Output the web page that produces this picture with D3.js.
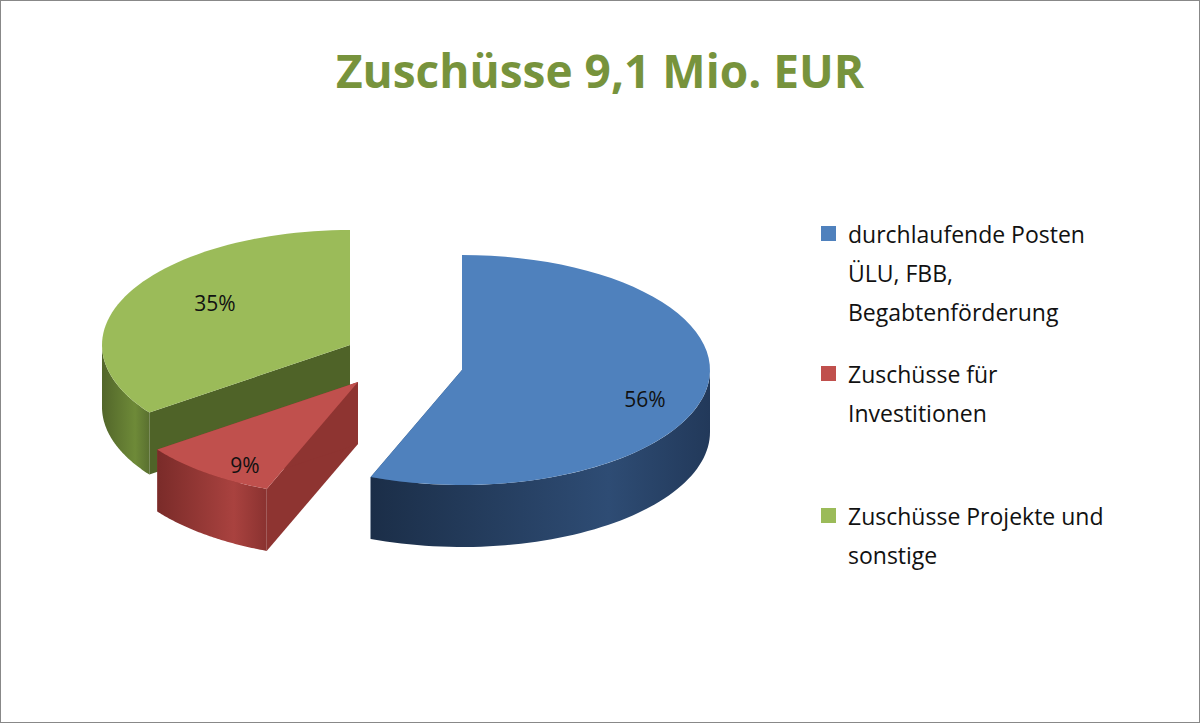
<!DOCTYPE html>
<html><head><meta charset="utf-8">
<script src="https://cdn.jsdelivr.net/npm/d3@7"></script>
<style>body{margin:0;background:#fff}</style></head>
<body><svg id="c" width="1200" height="723"></svg>
<script>
const categories = ["durchlaufende Posten ÜLU, FBB, Begabtenförderung","Zuschüsse für Investitionen","Zuschüsse Projekte und sonstige"];
const values = [56, 9, 35];
const labels = ["56%","9%","35%"];
const legendLines = [["durchlaufende Posten","ÜLU, FBB,","Begabtenförderung"],["Zuschüsse für","Investitionen"],["Zuschüsse Projekte und","sonstige"]];
const title = "Zuschüsse 9,1 Mio. EUR";

const svg = d3.select("#c");
const font = "Open Sans, Liberation Sans, sans-serif";
svg.append("rect").attr("x",0.5).attr("y",0.5).attr("width",1199).attr("height",722).attr("fill","#fff").attr("stroke","#888");
svg.append("text").attr("x",600).attr("y",88).attr("text-anchor","middle").attr("font-family",font)
  .attr("font-weight","bold").attr("font-size",46).attr("fill","#77933C").text(title);

const tops = ["#4F81BD","#C0504D","#9BBB59"];
const faceCol = ["#2B4A72","#8E3431","#4F6328"];
const wallStops = [["#1B2E48","#2E4C74","#22395A"],["#7A2B29","#A9423F","#8A3230"],["#52662A","#6E8A38","#5A7030"]];
const apex = [[462,370],[358,382],[350,345]];
const rx = 248, ry = 115, depth = 62;
const pie = d3.pie().sort(null).value(d=>d)(values);
const defs = svg.append("defs");
wallStops.forEach((s,i)=>{
  const g = defs.append("linearGradient").attr("id","w"+i).attr("x1","0").attr("x2","1").attr("y1","0").attr("y2","0");
  g.append("stop").attr("offset","0").attr("stop-color",s[0]);
  g.append("stop").attr("offset","0.7").attr("stop-color",s[1]);
  g.append("stop").attr("offset","1").attr("stop-color",s[2]);
});
function pt(i,a,dz){return [apex[i][0]+rx*Math.sin(a), apex[i][1]-ry*Math.cos(a)+(dz||0)];}
function arcPts(i,a0,a1,dz){const n=60,p=[];for(let k=0;k<=n;k++)p.push(pt(i,a0+(a1-a0)*k/n,dz));return p;}
const line = d3.line();
const g = svg.append("g");
[2,1,0].forEach(i=>{
  const d = pie[i], a0=d.startAngle, a1=d.endAngle, A=apex[i];
  // radial faces
  [a0,a1].forEach(a=>{
    const e=pt(i,a);
    g.append("path").attr("d",line([A,e,[e[0],e[1]+depth],[A[0],A[1]+depth]])+"Z").attr("fill",faceCol[i]);
  });
  // outer wall on front half
  const s=Math.max(a0,Math.PI/2), t=Math.min(a1,3*Math.PI/2);
  if(t>s){
    const top=arcPts(i,s,t,0), bot=arcPts(i,s,t,depth).reverse();
    g.append("path").attr("d",line(top.concat(bot))+"Z").attr("fill","url(#w"+i+")");
  }
  const tp=[A].concat(arcPts(i,a0,a1,0));
  g.append("path").attr("d",line(tp)+"Z").attr("fill",tops[i]);
});
const labPos=[[645,407],[245,473],[215,311]];
labels.forEach((l,i)=>svg.append("text").attr("x",labPos[i][0]).attr("y",labPos[i][1]).attr("text-anchor","middle")
  .attr("font-family",font).attr("font-size",21).attr("fill","#111").text(l));
const legY=[235,375,517];
legendLines.forEach((ls,i)=>{
  svg.append("rect").attr("x",821).attr("y",legY[i]-9).attr("width",15).attr("height",15).attr("fill",tops[i]);
  ls.forEach((t,j)=>svg.append("text").attr("x",848).attr("y",legY[i]+8+j*39).attr("font-family",font)
    .attr("font-size",23).attr("fill","#111").text(t));
});
</script></body></html>
